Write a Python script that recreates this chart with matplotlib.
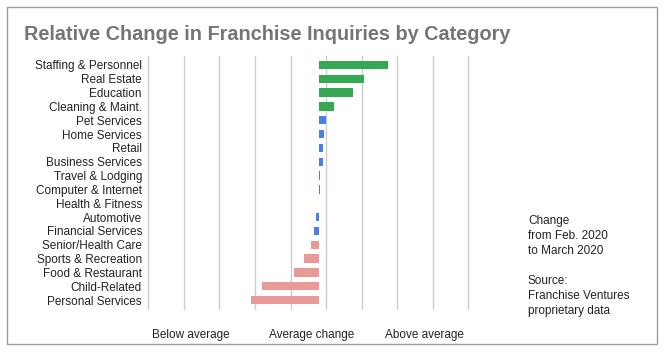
import matplotlib.pyplot as plt
from matplotlib.patches import Rectangle
import numpy as np

# ==========================================
# DATA
# ==========================================

categories = ["Staffing & Personnel", "Real Estate", "Education", "Cleaning & Maint.",
              "Pet Services", "Home Services", "Retail", "Business Services",
              "Travel & Lodging", "Computer & Internet", "Health & Fitness",
              "Automotive", "Financial Services", "Senior/Health Care",
              "Sports & Recreation", "Food & Restaurant", "Child-Related",
              "Personal Services"]
change = [1.93, 1.26, 0.95, 0.41, 0.19, 0.13, 0.10, 0.10, 0.02, 0.03, 0.0,
          -0.08, -0.14, -0.22, -0.42, -0.70, -1.59, -1.91]
group = ["up", "up", "up", "up", "mid", "mid", "mid", "mid", "mid", "mid", "mid",
         "mid", "mid", "down", "down", "down", "down", "down"]
tick_pos = [-3.6, -0.22, 2.98]
tick_labels = ["Below average", "Average change", "Above average"]

colors = {"up": "#34a853", "mid": "#4a7fe6", "down": "#ea9999"}

plt.rcParams["font.family"] = ["Liberation Sans", "DejaVu Sans"]

# ==========================================
# PLOT
# ==========================================

fig = plt.figure(figsize=(6.64, 3.52), dpi=100)
# axes spans a little wider than the gridlines so the edge ones are not clipped
px = 35.6
ax = fig.add_axes([(148.3 - 0.1 * px) / 664, 1 - 310 / 352, (320 + 0.2 * px) / 664, 254 / 352])

y = np.arange(len(categories))
ax.barh(y, change, height=0.6, color=[colors[g] for g in group], zorder=3)

for gx in np.arange(-4.8, 4.3, 1.0):
    ax.axvline(gx, color="#cccccc", lw=1, zorder=1)

ax.set_xlim(-4.9, 4.3)
ax.set_ylim(len(categories) - 0.28, -0.65)
ax.set_yticks(y)
ax.set_yticklabels(categories, fontsize=8.5, color="#222222")
ax.set_xticks(tick_pos)
ax.set_xticklabels(tick_labels, fontsize=8.5, color="#222222")
ax.tick_params(length=0, axis="y", pad=2)
ax.tick_params(length=0, axis="x", pad=14)
for s in ax.spines.values():
    s.set_visible(False)

fig.text(24 / 664, 1 - 35 / 352, "Relative Change in Franchise Inquiries by Category",
         fontsize=14.3, fontweight="bold", color="#757575", va="center")

fig.text(528 / 664, 1 - 215 / 352,
         "Change\nfrom Feb. 2020\nto March 2020\n\nSource:\nFranchise Ventures\nproprietary data",
         fontsize=8.5, color="#222222", va="top", linespacing=1.33)

fig.add_artist(Rectangle((6.5 / 664, 1 - 344 / 352), 650.5 / 664, 337 / 352,
                         transform=fig.transFigure, fill=False, edgecolor="#9e9e9e", lw=1))

fig.savefig("out.png", dpi=100)
